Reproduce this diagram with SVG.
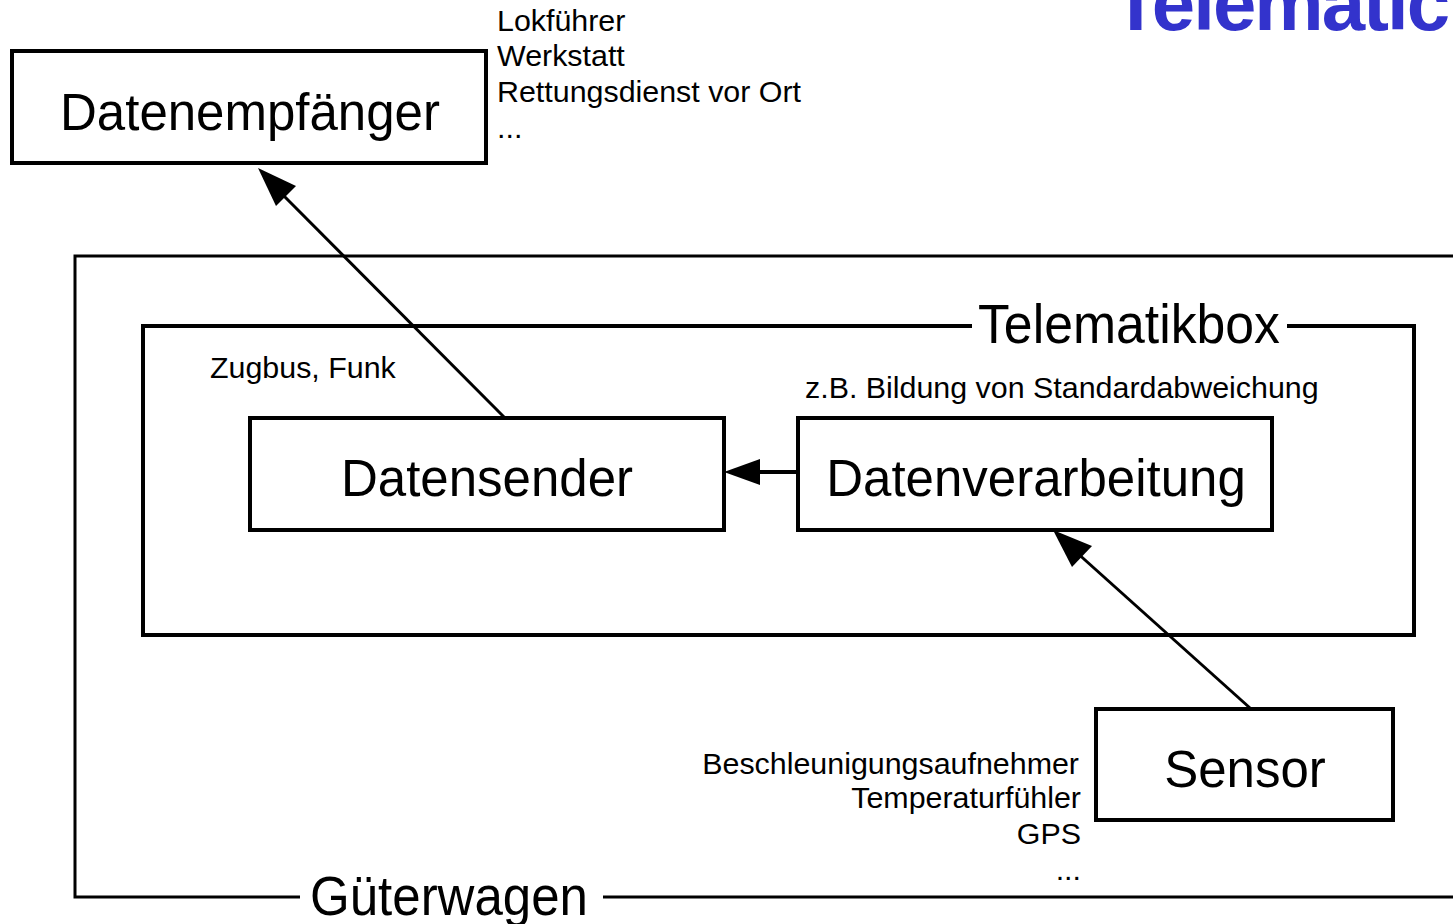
<svg xmlns="http://www.w3.org/2000/svg" width="1453" height="924" viewBox="0 0 1453 924">
<defs>
<style>
text{font-family:"Liberation Sans",Arial,sans-serif;fill:#000}
.big{font-size:51px}
.sm{font-size:30.4px}
.box{fill:#fff;stroke:#000;stroke-width:4}
.frame{fill:none;stroke:#000}
.conn{stroke:#000;fill:none}
</style>
</defs>
<rect width="1453" height="924" fill="#fff"/>
<text x="1112" y="30" style="font-size:78px;font-weight:bold;fill:#3333CC;letter-spacing:-2px">Telematic</text>
<g id="gueterwagen">
<polyline class="frame" stroke-width="3" points="300,897 75,897 75,256 1460,256"/>
<line class="frame" stroke-width="3" x1="603" y1="897" x2="1460" y2="897"/>
<text x="310" y="915" style="font-size:55px" textLength="278" lengthAdjust="spacingAndGlyphs">Güterwagen</text>
</g>
<g id="telematikbox">
<polyline class="frame" stroke-width="4" points="972,326 143,326 143,635 1414,635 1414,326 1287,326"/>
<text x="978" y="343" style="font-size:55px" textLength="302" lengthAdjust="spacingAndGlyphs">Telematikbox</text>
</g>
<g id="datenempfaenger">
<rect class="box" x="12" y="51" width="474" height="112"/>
<text class="big" x="250" y="130" text-anchor="middle">Datenempfänger</text>
</g>
<g id="empfaenger-list">
<text class="sm" x="497" y="31">Lokführer</text>
<text class="sm" x="497" y="66">Werkstatt</text>
<text class="sm" x="497" y="102">Rettungsdienst vor Ort</text>
<text class="sm" x="497" y="138">...</text>
</g>
<text class="sm" x="210" y="378">Zugbus, Funk</text>
<text class="sm" x="805" y="398">z.B. Bildung von Standardabweichung</text>
<g id="datensender">
<rect class="box" x="250" y="418" width="474" height="112"/>
<text class="big" x="487" y="496" text-anchor="middle">Datensender</text>
</g>
<g id="datenverarbeitung">
<rect class="box" x="798" y="418" width="474" height="112"/>
<text class="big" x="1036" y="496" text-anchor="middle">Datenverarbeitung</text>
</g>
<g id="sensor">
<rect class="box" x="1096" y="709" width="297" height="111"/>
<text class="big" x="1245" y="787" text-anchor="middle">Sensor</text>
</g>
<g id="sensor-list">
<text class="sm" x="1079" y="774" text-anchor="end">Beschleunigungsaufnehmer</text>
<text class="sm" x="1081" y="808" text-anchor="end">Temperaturfühler</text>
<text class="sm" x="1081" y="844" text-anchor="end">GPS</text>
<text class="sm" x="1081" y="880" text-anchor="end">...</text>
</g>
<g id="connectors">
<line class="conn" stroke-width="4" x1="798" y1="472" x2="758" y2="472"/>
<polygon points="724,472 760,459 760,485" fill="#000"/>
<line class="conn" stroke-width="3" x1="505" y1="418" x2="280" y2="192"/>
<polygon points="258,168 296,186 276,206" fill="#000"/>
<line class="conn" stroke-width="3" x1="1250" y1="708" x2="1075" y2="551"/>
<polygon points="1053,530 1092,546 1072,567" fill="#000"/>
</g>
</svg>
